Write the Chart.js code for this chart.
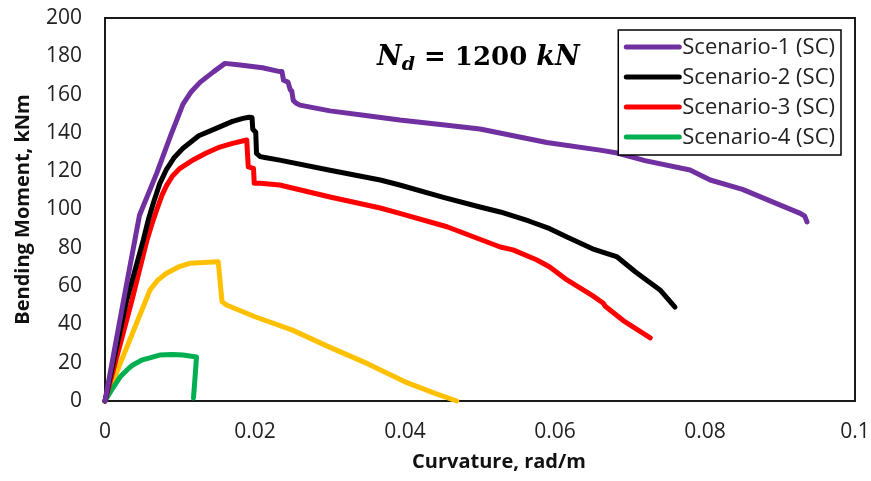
<!DOCTYPE html>
<html>
<head>
<meta charset="utf-8">
<script src="https://cdn.jsdelivr.net/npm/chart.js@4.4.1/dist/chart.umd.min.js"></script>
<style>
  html, body { margin: 0; padding: 0; background: #fff; }
</style>
</head>
<body>
<canvas id="chart" width="871" height="481"></canvas>
<script>
// curvature (rad/m) / bending moment (kNm)
const sc1X = [0, 0.0024, 0.0046, 0.0069, 0.0087, 0.0104, 0.0115, 0.0127, 0.0145, 0.016, 0.018, 0.021, 0.0233, 0.0236, 0.0238, 0.0244, 0.0247, 0.0249, 0.0251, 0.0255, 0.026, 0.030, 0.035, 0.0393, 0.0456, 0.050, 0.0589, 0.066, 0.0683, 0.072, 0.078, 0.0807, 0.085, 0.089, 0.0927, 0.0933, 0.0936];
const sc1Y = [0, 51, 97, 119, 138, 155, 161.5, 166.5, 172, 176.3, 175.5, 174, 172, 172, 167.5, 166.5, 162.5, 162, 157, 155.5, 154.5, 151.5, 149, 146.7, 144, 142, 135, 131, 129.5, 125.5, 120.6, 115.4, 110.5, 104, 98, 96.5, 93.5];

const sc2X = [0, 0.0029, 0.0051, 0.0058, 0.0065, 0.0073, 0.0082, 0.0092, 0.0104, 0.0125, 0.0149, 0.017, 0.0184, 0.0192, 0.0196, 0.0197, 0.0201, 0.0202, 0.0207, 0.0213, 0.0233, 0.030, 0.0367, 0.0393, 0.045, 0.050, 0.0527, 0.0565, 0.0593, 0.0616, 0.065, 0.0683, 0.0707, 0.074, 0.076];
const sc2Y = [0, 52.7, 84, 95, 104, 113.5, 121, 127, 132, 138.5, 142.5, 146, 147.6, 148.2, 148.1, 141.9, 140.3, 129.3, 127.6, 127.2, 125.8, 120.5, 115.4, 112.8, 106.5, 101.3, 98.7, 94, 90, 85.6, 79.5, 75.2, 67.5, 58, 49];

const sc3X = [0, 0.0036, 0.0056, 0.0063, 0.007, 0.0076, 0.0082, 0.009, 0.010, 0.0118, 0.0135, 0.0153, 0.017, 0.0189, 0.0191, 0.0198, 0.0199, 0.0207, 0.0233, 0.030, 0.0367, 0.0393, 0.0456, 0.0527, 0.0544, 0.0576, 0.0593, 0.0616, 0.065, 0.0664, 0.0667, 0.0691, 0.0727];
const sc3Y = [0, 52.7, 84, 93, 101, 107.5, 112.5, 117.5, 121.5, 126, 129.5, 132.6, 134.5, 136.3, 122.3, 121.5, 113.7, 113.7, 112.8, 106.5, 100.8, 98, 91, 80.4, 78.9, 73.6, 70, 63.2, 55, 51.2, 49.5, 42, 33];

const sc4X = [0, 0.001, 0.002, 0.003, 0.0037, 0.005, 0.0073, 0.009, 0.0104, 0.0122, 0.012, 0.0118];
const sc4Y = [0, 6.5, 12.5, 16.5, 18.8, 21.5, 24, 24.3, 24, 23, 12, 1.6];

// yellow curve, no legend entry in the original
const extraX = [0, 0.0058, 0.006, 0.007, 0.0082, 0.0098, 0.0113, 0.0151, 0.0156, 0.0162, 0.020, 0.025, 0.030, 0.035, 0.040, 0.044, 0.0469];
const extraY = [0, 56, 58, 63, 66.7, 70, 71.9, 72.7, 51.9, 50.1, 44, 37, 28, 19.5, 10, 4, 0];

const seriesLabels = ['Scenario-1 (SC)', 'Scenario-2 (SC)', 'Scenario-3 (SC)', 'Scenario-4 (SC)', ''];
const seriesColors = ['#7030A0', '#000000', '#FF0000', '#00B050', '#FFC000'];

const xTickLabels = ['0', '0.02', '0.04', '0.06', '0.08', '0.1'];
const yTickLabels = ['0', '20', '40', '60', '80', '100', '120', '140', '160', '180', '200'];
const xTitle = 'Curvature, rad/m';
const yTitle = 'Bending Moment, kNm';

const toPts = (xs, ys) => xs.map((x, i) => ({ x: x, y: ys[i] }));
const allX = [sc1X, sc2X, sc3X, sc4X, extraX];
const allY = [sc1Y, sc2Y, sc3Y, sc4Y, extraY];

Chart.defaults.font.family = "'Open Sans', sans-serif";
Chart.defaults.color = '#222';

// plot frame (all four sides)
const frame = {
  id: 'frame',
  beforeDatasetsDraw(chart) {
    const a = chart.chartArea, c = chart.ctx;
    c.save();
    c.strokeStyle = '#1a1a1a';
    c.lineWidth = 2;
    c.strokeRect(a.left, a.top, a.right - a.left, a.bottom - a.top);
    c.restore();
  }
};

// x axis title, sits a bit right of centre in the original
const xAxisTitle = {
  id: 'xAxisTitle',
  afterDraw(chart) {
    const a = chart.chartArea, c = chart.ctx;
    c.save();
    c.font = "bold 20px 'Open Sans'";
    c.fillStyle = '#111';
    c.textAlign = 'center';
    c.textBaseline = 'middle';
    c.fillText(xTitle, (a.left + a.right) / 2 + 19, a.bottom + 61);
    c.restore();
  }
};

// boxed legend inside the plot, top right
const boxLegend = {
  id: 'boxLegend',
  afterDraw(chart) {
    const a = chart.chartArea, c = chart.ctx;
    const items = chart.data.datasets.filter(d => d.label);
    c.save();
    c.font = "22px 'Open Sans'";
    const tw = Math.max(...items.map(d => c.measureText(d.label).width));
    const sample = 53, rowH = 30;
    const w = 8 + sample + 3 + tw + 6;
    const h = items.length * rowH + 5;
    const right = a.right - 14, top = a.top + 12;
    const left = right - w;
    c.fillStyle = '#fff';
    c.fillRect(left, top, w, h);
    c.strokeStyle = '#000';
    c.lineWidth = 1.5;
    c.strokeRect(left, top, w, h);
    c.textBaseline = 'middle';
    c.textAlign = 'left';
    items.forEach((d, i) => {
      const y = top + 17 + i * rowH;
      c.strokeStyle = d.borderColor;
      c.lineWidth = 5;
      c.lineCap = 'round';
      c.beginPath();
      c.moveTo(left + 8, y);
      c.lineTo(left + 8 + sample, y);
      c.stroke();
      c.fillStyle = '#222';
      c.fillText(d.label, left + 8 + sample + 3, y + 1);
    });
    c.restore();
  }
};

// N_d = 1200 kN note
const note = {
  id: 'note',
  afterDraw(chart) {
    const a = chart.chartArea, c = chart.ctx;
    c.save();
    c.fillStyle = '#000';
    c.textBaseline = 'alphabetic';
    let x = a.left + 272;
    const y = a.top + 47;
    const it = "italic bold 27px 'DejaVu Serif'";
    const up = "bold 26px 'DejaVu Serif'";
    const parts = [
      [it, 'N', 0], ["italic bold 19px 'DejaVu Serif'", 'd', 5], [up, ' = ', 0],
      [up, '1200', 0], [up, ' ', 0], [it, 'kN', 0]
    ];
    parts.forEach(p => {
      c.font = p[0];
      c.fillText(p[1], x, y + p[2]);
      x += c.measureText(p[1]).width;
    });
    c.restore();
  }
};

new Chart(document.getElementById('chart'), {
  type: 'line',
  data: {
    datasets: allX.map((xs, i) => ({
      label: seriesLabels[i],
      data: toPts(xs, allY[i]),
      borderColor: seriesColors[i],
      backgroundColor: seriesColors[i],
      borderWidth: 5,
      pointRadius: 0,
      tension: 0,
      borderJoinStyle: 'round',
      borderCapStyle: 'round',
      clip: 4
    }))
  },
  options: {
    responsive: false,
    animation: false,
    layout: { padding: { top: 18, right: 16, left: 0, bottom: 0 } },
    scales: {
      x: {
        type: 'linear',
        min: 0,
        max: 0.1,
        afterFit: s => { s.height = 80; s.paddingLeft = 0; s.paddingRight = 0; },
        grid: { display: false, drawTicks: false },
        border: { display: false },
        ticks: {
          stepSize: 0.02,
          padding: 18,
          font: { size: 21 },
          color: '#222',
          maxRotation: 0,
          callback: (v, i) => xTickLabels[i]
        },
        title: { display: false }
      },
      y: {
        min: 0,
        max: 200,
        afterFit: s => { s.width = 105; s.paddingTop = 0; s.paddingBottom = 0; },
        grid: { display: false, drawTicks: false },
        border: { display: false },
        ticks: {
          stepSize: 20,
          padding: 23,
          font: { size: 21 },
          color: '#222',
          callback: (v, i) => yTickLabels[i]
        },
        title: {
          display: true,
          text: yTitle,
          font: { size: 20, weight: 'bold' },
          color: '#111',
          padding: { top: 11, bottom: 0 }
        }
      }
    },
    plugins: {
      legend: { display: false },
      tooltip: { enabled: false }
    }
  },
  plugins: [frame, xAxisTitle, boxLegend, note]
});
</script>
</body>
</html>
